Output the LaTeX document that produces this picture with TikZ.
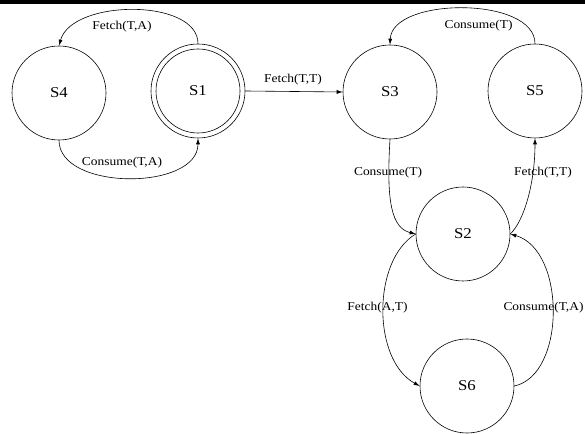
\documentclass[tikz,border=0pt]{standalone}
\usepackage{fontspec}
\setmainfont[FakeStretch=1.12]{Liberation Serif}
\usetikzlibrary{arrows.meta}
\begin{document}
\begin{tikzpicture}[x=1pt,y=1pt, line width=0.6pt,
  state/.style={circle, draw, minimum size=94pt, inner sep=0pt, font=\fontsize{15}{18}\selectfont},
  lbl/.style={inner sep=0pt, font=\fontsize{12}{14}\selectfont},
  trans/.style={-{Latex[length=6pt,width=4pt]}}]
\useasboundingbox (0,0) rectangle (585,433);
\fill (0,428.7) rectangle (585,433);
% states
\node[state] (S4) at (59,340) {S4};
\node[state] (S1) at (198,342) {S1};
\draw (S1.center) circle (42pt);
\node[state] (S3) at (390,341) {S3};
\node[state] (S5) at (535,342) {S5};
\node[state] (S2) at (463,199) {S2};
\node[state] (S6) at (467,47) {S6};
% transitions
\draw[trans] (S1.north) .. controls (198,435) and (72,434) .. (S4.north);
\draw[trans] (S4.south) .. controls (59,242) and (198,242) .. (S1.south);
\draw[trans] (S1.east) -- (S3.west);
\draw[trans] (S5.north) .. controls (535,437) and (392,436) .. (S3.north);
\draw[trans] (S3.south) .. controls (386,230) and (392,205) .. (S2.west);
\draw[trans] (S2.east) .. controls (524,212) and (535,250) .. (S5.south);
\draw[trans] (S2.west) .. controls (372,173) and (372,73) .. (S6.west);
\draw[trans] (S6.east) .. controls (566,58) and (566,183) .. (S2.east);
% labels
\node[lbl] (l1) at (122,406) {Fetch(T,A)};
\node[lbl] (l2) at (122,270) {Consume(T,A)};
\node[lbl] (l3) at (293,353) {Fetch(T,T)};
\node[lbl] (l4) at (478.5,407) {Consume(T)};
\node[lbl] (l5) at (388,260) {Consume(T)};
\node[lbl] (l6) at (543,260) {Fetch(T,T)};
\node[lbl] (l7) at (377.5,125) {Fetch(A,T)};
\node[lbl] (l8) at (543.5,125) {Consume(T,A)};
\end{tikzpicture}
\end{document}
